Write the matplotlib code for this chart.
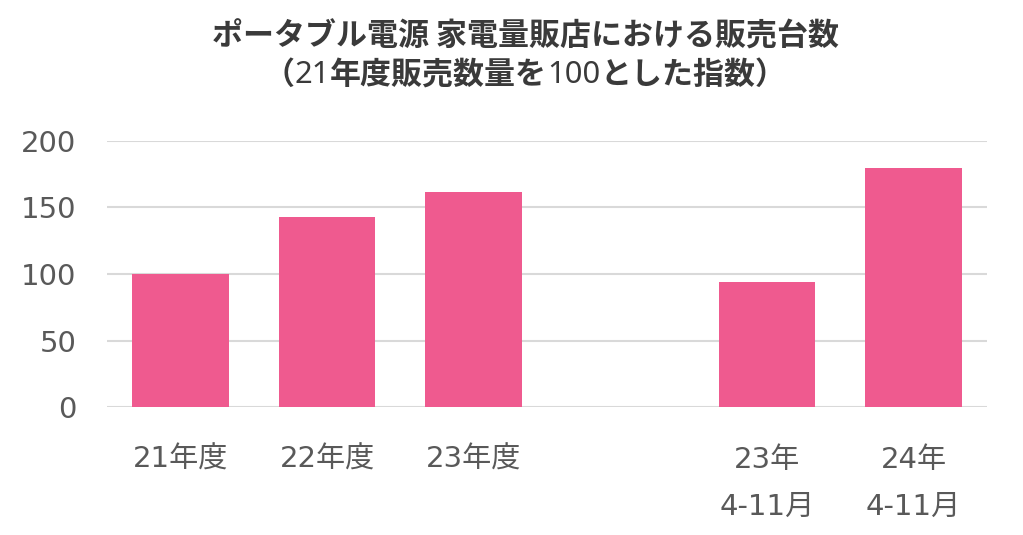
import matplotlib
matplotlib.use('Agg')
import matplotlib.pyplot as plt

plt.rcParams['font.family'] = ['DejaVu Sans', 'Noto Sans CJK JP']

# data
categories = ['21年度', '22年度', '23年度', '', '23年\n4-11月', '24年\n4-11月']
values = [100, 143, 162, None, 94, 180]
yticks = [0, 50, 100, 150, 200]
title1 = 'ポータブル電源 家電量販店における販売台数'
# second title line: (text, bold?)
title2 = [('（', True), ('21', False), ('年度販売数量を', True), ('100', False),
          ('とした指数）', True)]

bar_color = '#EF5A8F'
text_color = '#595959'
grid_color = '#D9D9D9'
title_color = '#3A3A3A'

fig = plt.figure(figsize=(10.23, 5.35), dpi=100)
ax = fig.add_axes([107 / 1023, 128 / 535, 880 / 1023, 266 / 535])

xs = [i for i, v in enumerate(values) if v is not None]
hs = [v for v in values if v is not None]
ax.bar(xs, hs, width=0.66, color=bar_color, zorder=3)

ax.set_xlim(-0.5, len(values) - 0.5)
ax.set_ylim(0, 200)
ax.set_yticks(yticks)
ax.set_yticklabels([str(t) for t in yticks], fontsize=21, color=text_color)
ax.yaxis.grid(True, color=grid_color, linewidth=1.5, zorder=0)
ax.tick_params(axis='y', length=0, pad=22)
ax.tick_params(axis='x', length=0, pad=28)

ax.set_xticks(range(len(values)))
ax.set_xticklabels(categories, fontsize=21, color=text_color, linespacing=1.85,
                   va='top')

for s in ax.spines.values():
    s.set_visible(False)

fig.text(525 / 1023, 1 - 37 / 535, title1,
         ha='center', va='center', fontsize=22.3, fontweight='bold',
         color=title_color, family=['Noto Sans CJK JP'])

# second line with light digits, laid out piece by piece
renderer = fig.canvas.get_renderer()
pieces = []
for s, bold in title2:
    t = fig.text(0, 1 - 75 / 535, s, ha='left', va='center', fontsize=22.3,
                 fontweight='bold' if bold else 'light', color=title_color,
                 family=['Noto Sans CJK JP'] if bold else ['Noto Sans', 'DejaVu Sans'])
    pieces.append(t)
widths = [p.get_window_extent(renderer).width for p in pieces]
x = 525 - sum(widths) / 2
for p, w in zip(pieces, widths):
    p.set_x(x / 1023)
    x += w

fig.savefig('out.png', dpi=100)
